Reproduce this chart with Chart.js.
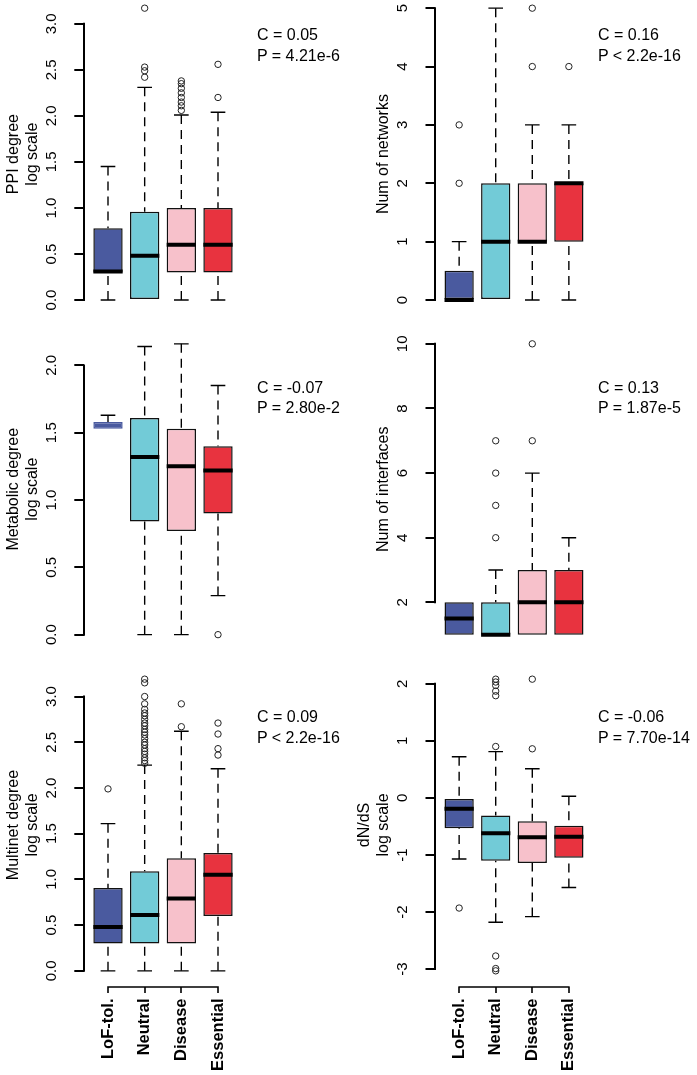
<!DOCTYPE html>
<html><head><meta charset="utf-8">
<script src="https://cdn.jsdelivr.net/npm/chart.js@4.4.1/dist/chart.umd.min.js"></script>
<style>
html,body{margin:0;padding:0;background:#fff;overflow:hidden;}
body{width:697px;height:1075px;position:relative;}
canvas{position:absolute;}
.stat{position:absolute;font-family:"Liberation Sans",Arial,sans-serif;font-size:16px;line-height:20.5px;color:#000;white-space:pre;}
</style></head><body>
<script>
// ---------------- data ----------------
const categories = ["LoF-tol.", "Neutral", "Disease", "Essential"];

// PPI degree (log scale)
const ppiQ1 = [0.30, 0.00, 0.30, 0.30];
const ppiMedian = [0.31, 0.48, 0.60, 0.60];
const ppiQ3 = [0.78, 0.96, 1.00, 1.00];
const ppiLow = [0.00, 0.00, 0.00, 0.00];
const ppiHigh = [1.45, 2.31, 2.01, 2.04];
const ppiOutliers = [[], [2.42, 2.49, 2.53, 3.17], [2.06, 2.11, 2.15, 2.20, 2.25, 2.30, 2.35, 2.38], [2.20, 2.56]];
const ppiTicks = [0, 0.5, 1, 1.5, 2, 2.5, 3];
const ppiTickLabels = ["0.0", "0.5", "1.0", "1.5", "2.0", "2.5", "3.0"];
const ppiTitle = ["PPI degree", "log scale"];
const ppiStat = ["C = 0.05", "P = 4.21e-6"];

// Num of networks
const netQ1 = [0, 0, 1, 1];
const netMedian = [0, 1, 1, 2];
const netQ3 = [0.5, 2, 2, 2];
const netLow = [0, 0, 0, 0];
const netHigh = [1, 5, 3, 3];
const netOutliers = [[2, 3], [], [4, 5], [4]];
const netTicks = [0, 1, 2, 3, 4, 5];
const netTickLabels = ["0", "1", "2", "3", "4", "5"];
const netTitle = "Num of networks";
const netStat = ["C = 0.16", "P < 2.2e-16"];

// Metabolic degree (log scale)
const metQ1 = [1.53, 0.84, 0.77, 0.90];
const metMedian = [null, 1.32, 1.25, 1.22];
const metQ3 = [1.58, 1.61, 1.53, 1.40];
const metLow = [1.53, 0.00, 0.00, 0.29];
const metHigh = [1.63, 2.14, 2.16, 1.85];
const metOutliers = [[], [], [], [0.0]];
const metTicks = [0, 0.5, 1, 1.5, 2];
const metTickLabels = ["0.0", "0.5", "1.0", "1.5", "2.0"];
const metTitle = ["Metabolic degree", "log scale"];
const metStat = ["C = -0.07", "P = 2.80e-2"];

// Num of interfaces
const intQ1 = [1, 1, 1, 1];
const intMedian = [1.5, 1, 2, 2];
const intQ3 = [2, 2, 3, 3];
const intLow = [1, 1, 1, 1];
const intHigh = [2, 3, 6, 4];
const intOutliers = [[], [4, 5, 6, 7], [7, 10], []];
const intTicks = [2, 4, 6, 8, 10];
const intTickLabels = ["2", "4", "6", "8", "10"];
const intTitle = "Num of interfaces";
const intStat = ["C = 0.13", "P = 1.87e-5"];

// Multinet degree (log scale)
const mulQ1 = [0.30, 0.30, 0.30, 0.60];
const mulMedian = [0.48, 0.61, 0.79, 1.05];
const mulQ3 = [0.905, 1.09, 1.23, 1.29];
const mulLow = [0, 0, 0, 0];
const mulHigh = [1.61, 2.25, 2.62, 2.21];
const mulOutliers = [[1.99],
  [2.27, 2.30, 2.33, 2.37, 2.40, 2.43, 2.47, 2.50, 2.54, 2.58, 2.61, 2.64, 2.68, 2.71, 2.75, 2.79, 2.82, 2.86, 2.92, 3.00, 3.15, 3.19],
  [2.67, 2.92], [2.36, 2.43, 2.59, 2.71]];
const mulTicks = [0, 0.5, 1, 1.5, 2, 2.5, 3];
const mulTickLabels = ["0.0", "0.5", "1.0", "1.5", "2.0", "2.5", "3.0"];
const mulTitle = ["Multinet degree", "log scale"];
const mulStat = ["C = 0.09", "P < 2.2e-16"];

// dN/dS (log scale)
const dndsQ1 = [-0.53, -1.10, -1.14, -1.05];
const dndsMedian = [-0.19, -0.62, -0.69, -0.68];
const dndsQ3 = [0.00, -0.31, -0.41, -0.49];
const dndsLow = [-1.07, -2.18, -2.08, -1.57];
const dndsHigh = [0.72, 0.81, 0.51, 0.03];
const dndsOutliers = [[-1.93], [-3.03, -2.99, -2.77, 0.90, 1.79, 1.87, 1.97, 2.03, 2.08], [0.86, 2.08], []];
const dndsTicks = [-3, -2, -1, 0, 1, 2];
const dndsTickLabels = ["-3", "-2", "-1", "0", "1", "2"];
const dndsTitle = ["dN/dS", "log scale"];
const dndsStat = ["C = -0.06", "P = 7.70e-14"];

// ---------------- styles & layout ----------------
const boxFill = ["#4a5a9f", "#72cbd7", "#f7c1cb", "#e8333f"];
const FONT = '"Liberation Sans", Arial, Helvetica, sans-serif';
const TICK_SIZE = 15;
const COL_LEFT = [0, 348], COL_W = [348, 349], AXIS_X = [83.8, 435], AREA_R = [242.2, 593];
const ROW_TOP = [-3.5, 332.2, 667.5], ROW_BOT = [311.7, 646.3, 982.5];
const STAT_X = [257, 598], STAT_Y = [25.3, 377.7, 707.2];
const MARGIN = 40, PAGE_H = 1075;

const panels = [
  {q1: ppiQ1, med: ppiMedian, q3: ppiQ3, lo: ppiLow, hi: ppiHigh, out: ppiOutliers, ticks: ppiTicks, labels: ppiTickLabels, title: ppiTitle, stat: ppiStat},
  {q1: netQ1, med: netMedian, q3: netQ3, lo: netLow, hi: netHigh, out: netOutliers, ticks: netTicks, labels: netTickLabels, title: netTitle, stat: netStat},
  {q1: metQ1, med: metMedian, q3: metQ3, lo: metLow, hi: metHigh, out: metOutliers, ticks: metTicks, labels: metTickLabels, title: metTitle, stat: metStat},
  {q1: intQ1, med: intMedian, q3: intQ3, lo: intLow, hi: intHigh, out: intOutliers, ticks: intTicks, labels: intTickLabels, title: intTitle, stat: intStat},
  {q1: mulQ1, med: mulMedian, q3: mulQ3, lo: mulLow, hi: mulHigh, out: mulOutliers, ticks: mulTicks, labels: mulTickLabels, title: mulTitle, stat: mulStat},
  {q1: dndsQ1, med: dndsMedian, q3: dndsQ3, lo: dndsLow, hi: dndsHigh, out: dndsOutliers, ticks: dndsTicks, labels: dndsTickLabels, title: dndsTitle, stat: dndsStat}
];
const panelRow = [0, 0, 1, 1, 2, 2], panelCol = [0, 1, 0, 1, 0, 1];

const measureCtx = document.createElement('canvas').getContext('2d');
function widestLabel(labels) {
  measureCtx.font = TICK_SIZE + 'px ' + FONT;
  return Math.max(...labels.map(l => measureCtx.measureText(l).width));
}

// R-style axis lines (from first to last tick) and bottom bracket
const rAxisPlugin = {
  id: 'rAxis',
  afterDraw(chart) {
    const {ctx} = chart;
    const ys = chart.scales.y, xs = chart.scales.x;
    ctx.save();
    ctx.strokeStyle = '#000';
    ctx.lineWidth = 2;
    ctx.lineCap = 'square';
    const t = ys.ticks;
    const ax = Math.round(ys.right);
    ctx.beginPath();
    ctx.moveTo(ax, ys.getPixelForValue(t[0].value));
    ctx.lineTo(ax, ys.getPixelForValue(t[t.length - 1].value));
    ctx.stroke();
    if (xs.options.display) {
      const by = Math.round(xs.top + 4.2);
      const xt = xs.ticks;
      ctx.lineWidth = 1.6;
      ctx.lineCap = 'butt';
      ctx.beginPath();
      ctx.moveTo(xs.getPixelForValue(xt[0].value) - 0.8, by);
      ctx.lineTo(xs.getPixelForValue(xt[xt.length - 1].value) + 0.8, by);
      xt.forEach(tk => {
        const px = Math.round(xs.getPixelForValue(tk.value));
        ctx.moveTo(px, by);
        ctx.lineTo(px, by + 6);
      });
      ctx.stroke();
    }
    ctx.restore();
  }
};

panels.forEach((p, k) => {
  const row = panelRow[k], col = panelCol[k];
  const bottomRow = row === 2;
  const cTop = Math.floor(ROW_TOP[row]) - MARGIN;
  const cH = bottomRow ? PAGE_H - cTop : Math.ceil(ROW_BOT[row]) + MARGIN - cTop;
  const padTop = ROW_TOP[row] - cTop;
  const padBottom = bottomRow ? 0 : cTop + cH - ROW_BOT[row];
  const xAxisH = bottomRow ? cTop + cH - ROW_BOT[row] : 0;
  const axisW = AXIS_X[col] - COL_LEFT[col];
  const padRight = COL_LEFT[col] + COL_W[col] - AREA_R[col];

  const canvas = document.createElement('canvas');
  canvas.width = COL_W[col];
  canvas.height = cH;
  canvas.style.left = COL_LEFT[col] + 'px';
  canvas.style.top = cTop + 'px';
  canvas.style.width = COL_W[col] + 'px';
  canvas.style.height = cH + 'px';
  document.body.appendChild(canvas);

  // y range as R boxplot: data range +/- 4%
  const all = [...p.lo, ...p.hi, ...p.q1, ...p.q3, ...p.out.flat()];
  const dmin = Math.min(...all), dmax = Math.max(...all);
  const ext = (dmax - dmin) * 0.04;
  const n = categories.length;
  const xPos = categories.map((c, i) => i + 1);
  const xExt = n * 0.04;

  const whiskers = [], caps = [], medians = [], outliers = [];
  xPos.forEach((x, i) => {
    whiskers.push({x, y: p.hi[i]}, {x, y: p.q3[i]}, {x, y: null});
    whiskers.push({x, y: p.lo[i]}, {x, y: p.q1[i]}, {x, y: null});
    if (p.hi[i] > p.q3[i]) caps.push({x: x - 0.2, y: p.hi[i]}, {x: x + 0.2, y: p.hi[i]}, {x: x + 0.2, y: null});
    if (p.lo[i] < p.q1[i]) caps.push({x: x - 0.2, y: p.lo[i]}, {x: x + 0.2, y: p.lo[i]}, {x: x + 0.2, y: null});
    if (p.med[i] !== null) medians.push({x: x - 0.4, y: p.med[i]}, {x: x + 0.4, y: p.med[i]}, {x: x + 0.4, y: null});
    p.out[i].forEach(v => outliers.push({x, y: v}));
  });

  const nLines = Array.isArray(p.title) ? p.title.length : 1;
  const titlePad = axisW - 51 - (nLines - 1) * 19 - 9.5;
  const tickPad = 32 - 9.5 - widestLabel(p.labels) / 2;

  new Chart(canvas, {
    type: 'bar',
    data: {
      datasets: [
        {type: 'line', data: medians, borderColor: '#000', borderWidth: 4, pointRadius: 0, spanGaps: false, order: 0},
        {type: 'scatter', data: outliers, pointRadius: 3.2, pointBorderWidth: 1, pointBorderColor: '#222', pointBackgroundColor: 'rgba(0,0,0,0)', order: 1},
        {type: 'line', data: caps, borderColor: '#000', borderWidth: 1.4, pointRadius: 0, spanGaps: false, order: 2},
        {type: 'line', data: whiskers, borderColor: '#000', borderWidth: 1.4, borderDash: [9, 6], pointRadius: 0, spanGaps: false, order: 3},
        {type: 'bar', data: xPos.map((x, i) => ({x, y: [p.q1[i], p.q3[i]]})),
          backgroundColor: boxFill, borderColor: p.med.map((m, i) => m === null ? boxFill[i] : '#111'),
          borderWidth: 1.5, borderSkipped: false, barPercentage: 0.8, categoryPercentage: 1, order: 4}
      ]
    },
    options: {
      responsive: false, animation: false, events: [],
      layout: {padding: {left: 0, right: padRight, top: padTop, bottom: padBottom}},
      plugins: {legend: {display: false}, tooltip: {enabled: false}},
      scales: {
        x: {
          type: 'linear', min: 0.5 - xExt, max: n + 0.5 + xExt, offset: false, display: bottomRow,
          afterBuildTicks: s => { s.ticks = xPos.map(v => ({value: v})); },
          afterFit: s => { if (bottomRow) s.height = xAxisH; },
          border: {display: false},
          grid: {display: false, drawTicks: false, offset: false},
          ticks: {autoSkip: false, minRotation: 90, maxRotation: 90, padding: 16, color: '#000',
            font: {family: FONT, size: 16.5, weight: 'bold'},
            callback: (v, i) => categories[i]}
        },
        y: {
          type: 'linear', min: dmin - ext, max: dmax + ext,
          afterBuildTicks: s => { s.ticks = p.ticks.map(v => ({value: v})); },
          afterFit: s => { s.width = axisW; },
          border: {display: false},
          grid: {drawOnChartArea: false, drawTicks: true, tickLength: 9.5, color: '#000', lineWidth: 2},
          ticks: {autoSkip: false, minRotation: 90, maxRotation: 90, crossAlign: 'center', padding: tickPad,
            color: '#000', font: {family: FONT, size: TICK_SIZE},
            callback: (v, i) => p.labels[i]},
          title: {display: true, text: p.title, color: '#000',
            font: {family: FONT, size: 16, lineHeight: '19px'}, padding: {top: titlePad, bottom: 0}}
        }
      }
    },
    plugins: [rAxisPlugin]
  });

  const div = document.createElement('div');
  div.className = 'stat';
  div.style.left = STAT_X[col] + 'px';
  div.style.top = STAT_Y[row] + 'px';
  div.textContent = p.stat.join('\n');
  document.body.appendChild(div);
});
</script>
</body></html>
